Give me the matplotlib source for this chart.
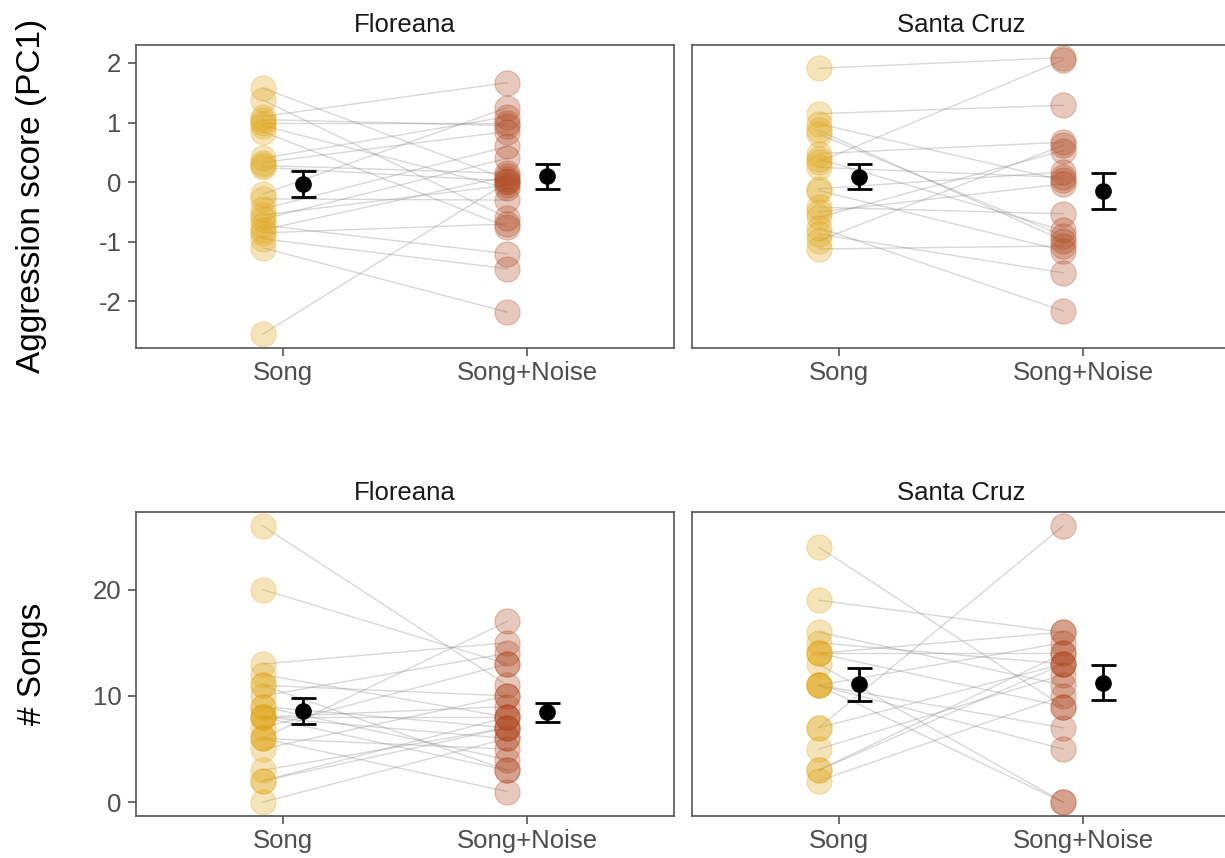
import matplotlib
matplotlib.use("Agg")
import matplotlib.pyplot as plt
import numpy as np

plt.rcParams['font.family'] = ['Liberation Sans', 'DejaVu Sans']
plt.rcParams['axes.unicode_minus'] = False

# ---------------- data ----------------
treatments = ["Song", "Song+Noise"]
sites = ["Floreana", "Santa Cruz"]

# Aggression score (PC1), paired per individual
pc1_flo_song = [1.58, 1.38, 1.10, 1.05, 1.00, 0.95, 0.85, 0.40, 0.33, 0.28, 0.25,
                -0.20, -0.28, -0.45, -0.55, -0.62, -0.72, -0.80, -0.85, -0.95, -1.10, -2.55]
pc1_flo_noise = [0.05, -0.60, 1.67, 0.95, 1.00, -0.10, -0.75, 1.10, 0.85, 0.15, 0.02,
                 1.25, -0.30, 0.60, -0.05, 0.40, -1.20, 0.10, -0.70, -1.45, -2.18, 0.00]
pc1_sc_song = [1.91, 1.15, 0.98, 0.87, 0.81, 0.48, 0.39, 0.34, 0.25, -0.11, -0.14,
               -0.42, -0.50, -0.59, -0.76, -0.87, -0.98, -1.12]
pc1_sc_noise = [2.09, 1.29, 0.03, -0.98, -0.90, 0.67, -0.81, 2.05, 0.08, 0.17, -1.15,
                -0.53, -0.03, 0.53, -2.16, -1.52, 0.62, -1.07]

# Number of songs, paired per individual
songs_flo_song = [26, 20, 13, 12, 11, 11, 10, 9, 9, 8, 8, 8, 8, 7, 6, 6, 6, 5, 3, 2, 2, 0]
songs_flo_noise = [11, 13, 15, 8, 3, 10, 14, 7, 4, 9, 6, 8, 3, 13, 17, 5, 1, 10, 7, 8, 7, 6]
songs_sc_song = [24, 19, 16, 15, 14, 14, 14, 13, 11, 11, 11, 11, 7, 7, 5, 3, 3, 2]
songs_sc_noise = [9, 16, 11, 13, 14, 16, 9, 0, 0, 7, 5, 15, 26, 13, 12, 14, 13, 10]

# means and standard errors (Song, Song+Noise)
pc1_flo_mean = [-0.03, 0.10]
pc1_flo_se = [0.225, 0.21]
pc1_sc_mean = [0.09, -0.145]
pc1_sc_se = [0.21, 0.305]
songs_flo_mean = [8.58, 8.45]
songs_flo_se = [1.26, 0.91]
songs_sc_mean = [11.08, 11.24]
songs_sc_se = [1.57, 1.63]

# ---------------- style ----------------
W, H = 1225, 858
fig = plt.figure(figsize=(W / 100, H / 100), dpi=100)

col_song = "#E0A81C"
col_noise = "#B04A22"
tick_col = "#4D4D4D"
frame_col = "#555555"
dodge = 0.082


def px_axes(x0, y0, x1, y1):
    return fig.add_axes([x0 / W, 1 - y1 / H, (x1 - x0) / W, (y1 - y0) / H])


panels = [
    (136, 45, 674, 348, pc1_flo_song, pc1_flo_noise, pc1_flo_mean, pc1_flo_se, "Floreana", True, (-2.781, 2.301), [-2, -1, 0, 1, 2]),
    (692, 45, 1230, 348, pc1_sc_song, pc1_sc_noise, pc1_sc_mean, pc1_sc_se, "Santa Cruz", False, (-2.781, 2.301), [-2, -1, 0, 1, 2]),
    (136, 512, 674, 816, songs_flo_song, songs_flo_noise, songs_flo_mean, songs_flo_se, "Floreana", True, (-1.3, 27.3), [0, 10, 20]),
    (692, 512, 1230, 816, songs_sc_song, songs_sc_noise, songs_sc_mean, songs_sc_se, "Santa Cruz", False, (-1.3, 27.3), [0, 10, 20]),
]

for (x0, y0, x1, y1, s_song, s_noise, mean, se, title, show_y, ylim, yticks) in panels:
    ax = px_axes(x0, y0, x1, y1)
    xs = 1 - dodge
    xn = 2 - dodge
    for a, b in zip(s_song, s_noise):
        ax.plot([xs, xn], [a, b], color="#7F7F7F", alpha=0.3, lw=1.0, zorder=1)
    ax.scatter([xs] * len(s_song), s_song, s=330, color=col_song, alpha=0.3,
               edgecolors=col_song, linewidths=0.8, zorder=2)
    ax.scatter([xn] * len(s_noise), s_noise, s=330, color=col_noise, alpha=0.3,
               edgecolors=col_noise, linewidths=0.8, zorder=2)
    ax.errorbar(np.array([1, 2]) + dodge, mean, yerr=se, fmt="o", color="black",
                ms=11, capsize=9, capthick=2.0, elinewidth=2.0, zorder=3)
    ax.set_xlim(0.4, 2.6)
    ax.set_ylim(*ylim)
    ax.set_xticks([1, 2])
    ax.set_xticklabels(treatments)
    ax.set_yticks(yticks)
    for sp in ax.spines.values():
        sp.set_color(frame_col)
        sp.set_linewidth(1.2)
    ax.tick_params(axis="both", colors=frame_col, length=5.5, width=1.2,
                   labelsize=18.5, labelcolor=tick_col)
    ax.tick_params(axis="x", pad=4)
    ax.tick_params(axis="y", pad=5)
    if not show_y:
        ax.tick_params(axis="y", left=False, labelleft=False)
    ax.set_title(title, fontsize=18.5, color="#1A1A1A", pad=9)

fig.text(32 / W, 1 - 196 / H, "Aggression score (PC1)", rotation=90,
         ha="center", va="center", fontsize=24, color="black")
fig.text(32 / W, 1 - 664 / H, "# Songs", rotation=90,
         ha="center", va="center", fontsize=24, color="black")

fig.savefig("out.png", dpi=100)
